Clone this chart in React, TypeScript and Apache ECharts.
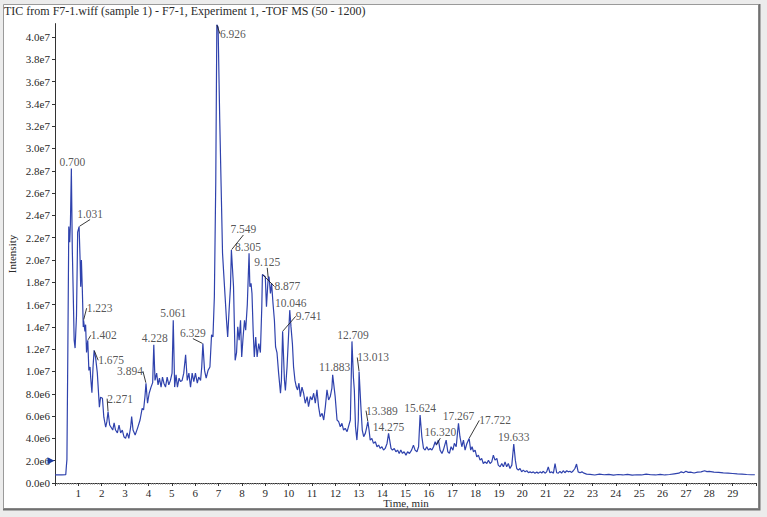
import { useEffect, useRef } from "react";
import * as echarts from "echarts";

// Total ion chromatogram: retention time (min) and intensity (×1e6 counts)
const timeMin = [
  0, 0.3, 0.46, 0.49, 0.51, 0.55, 0.59, 0.63, 0.66, 0.7, 0.74, 0.78, 0.82, 0.86, 0.92, 0.97, 1.031,
  1.07, 1.1, 1.13, 1.17, 1.21, 1.223, 1.28, 1.31, 1.35, 1.402, 1.45, 1.5, 1.53, 1.58, 1.63, 1.675,
  1.74, 1.81, 1.9, 1.95, 2.03, 2.09, 2.17, 2.22, 2.271, 2.34, 2.4, 2.47, 2.53, 2.59, 2.67, 2.74,
  2.81, 2.88, 2.95, 3.02, 3.09, 3.16, 3.24, 3.28, 3.34, 3.43, 3.53, 3.64, 3.73, 3.79, 3.85, 3.894,
  3.96, 4.03, 4.11, 4.18, 4.228, 4.28, 4.35, 4.41, 4.47, 4.54, 4.6, 4.66, 4.73, 4.8, 4.87, 4.94,
  5.01, 5.061, 5.12, 5.18, 5.24, 5.31, 5.37, 5.44, 5.51, 5.59, 5.66, 5.73, 5.8, 5.87, 5.94, 6.01,
  6.09, 6.15, 6.23, 6.28, 6.329, 6.4, 6.47, 6.55, 6.63, 6.7, 6.76, 6.82, 6.88, 6.926, 6.98, 7.05,
  7.11, 7.17, 7.22, 7.28, 7.34, 7.39, 7.45, 7.51, 7.549, 7.64, 7.71, 7.77, 7.82, 7.88, 7.94, 7.99,
  8.05, 8.11, 8.16, 8.23, 8.305, 8.34, 8.39, 8.43, 8.48, 8.53, 8.59, 8.65, 8.72, 8.79, 8.85, 8.877,
  9.0, 9.05, 9.1, 9.125, 9.16, 9.22, 9.27, 9.33, 9.39, 9.44, 9.5, 9.57, 9.65, 9.69, 9.741, 9.82,
  9.86, 9.93, 9.99, 10.046, 10.1, 10.16, 10.21, 10.27, 10.33, 10.38, 10.44, 10.5, 10.57, 10.64,
  10.71, 10.79, 10.85, 10.93, 11.0, 11.07, 11.14, 11.21, 11.28, 11.35, 11.43, 11.5, 11.57, 11.64,
  11.71, 11.78, 11.85, 11.883, 11.99, 12.07, 12.14, 12.21, 12.28, 12.35, 12.42, 12.5, 12.56, 12.64,
  12.709, 12.77, 12.81, 12.86, 12.92, 12.98, 13.013, 13.09, 13.15, 13.21, 13.28, 13.33, 13.389,
  13.44, 13.49, 13.56, 13.63, 13.71, 13.78, 13.85, 13.92, 13.99, 14.06, 14.13, 14.21, 14.275, 14.38,
  14.44, 14.52, 14.59, 14.66, 14.73, 14.8, 14.87, 14.94, 15.02, 15.09, 15.17, 15.26, 15.34, 15.41,
  15.49, 15.56, 15.624, 15.7, 15.77, 15.84, 15.91, 15.98, 16.06, 16.13, 16.2, 16.27, 16.32, 16.41,
  16.48, 16.56, 16.62, 16.74, 16.81, 16.88, 16.95, 17.03, 17.09, 17.17, 17.23, 17.267, 17.33, 17.41,
  17.48, 17.55, 17.62, 17.722, 17.79, 17.85, 17.91, 17.98, 18.05, 18.12, 18.19, 18.26, 18.33, 18.41,
  18.48, 18.55, 18.62, 18.69, 18.76, 18.83, 18.91, 18.97, 19.05, 19.12, 19.19, 19.26, 19.33, 19.4,
  19.47, 19.55, 19.633, 19.7, 19.76, 19.83, 19.9, 19.97, 20.04, 20.12, 20.19, 20.26, 20.33, 20.4,
  20.47, 20.54, 20.62, 20.68, 20.76, 20.83, 20.9, 20.97, 21.04, 21.11, 21.18, 21.26, 21.33, 21.4,
  21.47, 21.54, 21.61, 21.68, 21.75, 21.82, 21.9, 21.97, 22.04, 22.11, 22.18, 22.25, 22.32, 22.39,
  22.47, 22.55, 22.64, 22.75, 22.9, 23.1, 23.3, 23.5, 23.7, 23.9, 24.1, 24.3, 24.5, 24.7, 24.9,
  25.1, 25.3, 25.5, 25.7, 25.9, 26.1, 26.3, 26.5, 26.7, 26.8, 26.9, 27.0, 27.1, 27.2, 27.35, 27.5,
  27.65, 27.8, 27.9, 28.0, 28.2, 28.4, 28.6, 28.8, 29.0, 29.2, 29.4, 29.6, 29.8, 29.95,
];

const intensityE6 = [
  0.72, 0.72, 0.74, 1.6, 2.1, 12.0, 23.0, 21.6, 23.3, 28.2, 21.0, 17.0, 12.8, 12.1, 15.0, 22.5, 23.0,
  20.3, 17.6, 20.0, 17.3, 14.0, 14.6, 13.6, 14.2, 11.7, 12.8, 10.1, 10.4, 9.4, 8.1, 10.5, 11.9,
  11.2, 9.9, 6.8, 7.7, 7.6, 5.9, 5.0, 5.5, 6.4, 5.2, 5.0, 4.75, 5.4, 4.75, 4.5, 5.2,
  4.5, 4.75, 4.15, 4.0, 4.5, 4.0, 5.05, 5.95, 4.75, 4.3, 4.9, 5.65, 6.7, 6.55, 7.75, 8.95,
  7.15, 8.05, 8.6, 9.0, 12.4, 9.2, 9.85, 8.8, 9.4, 8.6, 9.5, 8.95, 8.6, 9.5, 8.8, 9.2,
  9.85, 14.6, 8.6, 9.7, 8.6, 9.4, 9.1, 9.2, 9.85, 11.5, 9.2, 9.85, 8.6, 9.85, 9.1, 9.85,
  8.95, 9.5, 9.2, 10.4, 12.5, 10.1, 9.4, 10.1, 10.4, 13.3, 13.1, 16.7, 27.0, 41.1, 40.9, 32.6,
  26.6, 20.6, 18.8, 16.7, 14.6, 13.1, 15.5, 17.6, 20.9, 17.6, 11.0, 11.7, 14.0, 12.8, 14.6, 11.3,
  13.1, 14.6, 13.7, 16.0, 20.6, 17.6, 17.9, 17.0, 13.7, 11.3, 13.1, 11.3, 12.5, 11.7, 15.8, 18.7,
  18.5, 15.8, 17.6, 18.4, 18.5, 17.0, 17.9, 16.1, 14.6, 12.2, 11.7, 9.85, 8.05, 9.2, 13.6, 9.2,
  8.3, 10.4, 13.0, 15.5, 14.0, 12.5, 10.4, 9.2, 8.6, 8.35, 8.95, 7.75, 8.6, 8.05,
  7.15, 7.75, 6.85, 7.75, 7.45, 8.05, 7.15, 8.35, 6.85, 5.95, 6.25, 5.65, 6.85, 8.35,
  7.45, 7.75, 8.5, 9.7, 7.75, 5.65, 5.5, 5.05, 5.35, 4.75, 4.9, 4.6, 5.05, 5.65,
  12.7, 9.5, 8.35, 5.05, 3.85, 5.65, 10.0, 6.85, 4.75, 4.15, 4.45, 4.9, 5.5,
  4.75, 3.85, 4.0, 3.55, 3.7, 3.25, 3.4, 3.1, 3.25, 2.95, 3.1, 3.55, 4.45, 3.1,
  2.95, 3.1, 2.8, 2.95, 2.65, 2.95, 2.65, 2.8, 2.5, 2.8, 2.65, 2.95, 3.4, 2.95,
  2.8, 3.25, 6.1, 4.15, 3.1, 2.95, 3.25, 2.95, 3.1, 2.95, 3.25, 3.7, 3.4, 3.85,
  2.95, 2.65, 2.95, 3.85, 2.8, 2.65, 3.25, 2.95, 3.55, 3.25, 4.6, 5.35, 4.15, 3.25,
  3.85, 2.95, 3.5, 4.0, 2.95, 3.25, 2.8, 2.95, 2.35, 2.5, 2.05, 2.2, 1.75, 1.9,
  1.75, 2.05, 1.75, 1.9, 2.5, 2.05, 2.2, 1.6, 1.45, 1.75, 1.45, 1.9, 1.45, 1.75,
  1.3, 1.6, 3.5, 2.05, 1.3, 1.15, 1.3, 1.0, 1.15, 1.0, 1.1, 0.92, 1.0, 0.92,
  1.0, 0.87, 0.98, 0.87, 1.0, 0.9, 1.05, 0.88, 1.0, 1.45, 0.92, 1.0, 0.88, 1.75,
  0.92, 0.88, 1.05, 0.88, 1.1, 0.92, 1.1, 1.0, 1.05, 0.95, 1.1, 1.3, 1.7, 1.0,
  0.92, 1.0, 0.88, 0.8, 0.78, 0.72, 0.8, 0.74, 0.78, 0.7, 0.76, 0.72, 0.78, 0.7, 0.74,
  0.72, 0.8, 0.74, 0.72, 0.78, 0.72, 0.76, 0.82, 0.88, 1.0, 0.92, 1.05, 0.95, 0.98, 0.9, 0.98,
  1.0, 1.1, 1.02, 1.05, 0.98, 0.95, 0.9, 0.88, 0.85, 0.82, 0.8, 0.76, 0.74, 0.74,
];

// Annotated peaks (retention times, min)
const peakTimes = [
  0.7, 1.031, 1.223, 1.402, 1.675, 2.271, 3.894, 4.228, 5.061, 6.329, 6.926, 7.549, 8.305, 8.877,
  9.125, 9.741, 10.046, 11.883, 12.709, 13.013, 13.389, 14.275, 15.624, 16.32, 17.267, 17.722, 19.633,
];
// Label placement (dx, dy from the apex, px) and whether a leader line is drawn
const peakLabelShift = [
  [1, -7], [11, -13], [16, -12], [16, -5], [17, 10], [12, -13], [-16, -12], [1, -7], [0, -7],
  [-10, -11], [16, 9], [12, -21], [-1, -6], [25, 12], [-1, -16], [26, -15], [1, -7], [2, -8],
  [1, -6.5], [14, -14], [14, -11], [0, -6], [0, -7], [4, -13], [0, -7], [26, -18], [0, -6.5],
];
const peakLeader = [
  false, true, true, true, true, true, true, false, false, true, true, true, false, true,
  true, true, false, false, false, true, true, false, false, true, false, true, false,
];

const yTickValues = [
  0, 2e6, 4e6, 6e6, 8e6, 1e7, 1.2e7, 1.4e7, 1.6e7, 1.8e7, 2e7, 2.2e7, 2.4e7, 2.6e7, 2.8e7,
  3e7, 3.2e7, 3.4e7, 3.6e7, 3.8e7, 4e7,
];

const TITLE = "TIC from F7-1.wiff (sample 1) - F7-1, Experiment 1, -TOF MS (50 - 1200)";
const X_NAME = "Time, min";
const Y_NAME = "Intensity";
const SERIF = '"Liberation Serif", "DejaVu Serif", serif';
const TEXT = "#2a2a2a";

export default function App() {
  const ref = useRef<HTMLDivElement>(null);

  useEffect(() => {
    const chart = echarts.init(ref.current!, null, { renderer: "svg" });
    const tic = timeMin.map((t, i) => [t, intensityE6[i] * 1e6]);
    const peaks = peakTimes.map((t, i) => {
      const k = timeMin.indexOf(t);
      return { value: [t, intensityE6[k] * 1e6], labelLine: { show: peakLeader[i] } };
    });

    chart.setOption({
      animation: false,
      backgroundColor: "#ececec",
      title: {
        text: TITLE,
        left: 4,
        top: 5,
        padding: 0,
        textStyle: { fontFamily: SERIF, fontSize: 12, fontWeight: "normal", color: TEXT },
      },
      graphic: [
        {
          type: "rect",
          z: -10,
          silent: true,
          shape: { x: 3.5, y: 4.5, width: 755, height: 504 },
          style: { fill: "#fff", stroke: "#9a9a9a", lineWidth: 1 },
        },
        {
          type: "polyline",
          z: -9,
          silent: true,
          shape: { points: [[759.5, 4], [759.5, 509.5], [3, 509.5]] },
          style: { stroke: "#707070", lineWidth: 2, fill: null },
        },
        // axis titles
        {
          type: "text",
          silent: true,
          x: 406,
          y: 503,
          style: {
            text: X_NAME,
            fontFamily: SERIF,
            fontSize: 11,
            fill: TEXT,
            align: "center",
            verticalAlign: "middle",
          },
        },
        {
          type: "text",
          silent: true,
          x: 12,
          y: 254,
          rotation: Math.PI / 2,
          style: {
            text: Y_NAME,
            fontFamily: SERIF,
            fontSize: 11,
            fill: TEXT,
            align: "center",
            verticalAlign: "middle",
          },
        },
      ],
      grid: {
        left: 55,
        right: 11,
        top: 23.6,
        bottom: 34,
        containLabel: false,
        outerBoundsMode: "none",
      },
      xAxis: {
        type: "value",
        min: 0,
        max: 30,
        interval: 1,
        axisLine: { lineStyle: { color: "#333", width: 1 } },
        axisTick: { length: 3, lineStyle: { color: "#333" } },
        minorTick: { show: true, splitNumber: 10, length: 1.5, lineStyle: { color: "#777" } },
        splitLine: { show: false },
        axisLabel: {
          showMinLabel: false,
          showMaxLabel: false,
          margin: 4,
          fontFamily: SERIF,
          fontSize: 11,
          color: TEXT,
          formatter: (v: number) => (v <= 0 || v >= 30 ? "" : String(v)),
        },
      },
      yAxis: {
        type: "value",
        min: 0,
        max: 4.12e7,
        interval: 2e6,
        axisLine: { show: true, lineStyle: { color: "#333", width: 1 } },
        axisTick: { show: true, length: 3, customValues: yTickValues, lineStyle: { color: "#333" } },
        splitLine: { show: false },
        axisLabel: {
          customValues: yTickValues,
          margin: 5,
          fontFamily: SERIF,
          fontSize: 11,
          color: TEXT,
          formatter: (v: number) => (v > 4.01e7 ? "" : v.toExponential(1).replace("+", "")),
        },
      },
      series: [
        {
          type: "line",
          data: tic,
          showSymbol: false,
          symbol: "none",
          smooth: false,
          lineStyle: { color: "#2f42ad", width: 1.2 },
          markPoint: {
            silent: true,
            label: { show: false },
            data: [
              {
                coord: [0, 2e6],
                symbol: "triangle",
                symbolRotate: -90,
                symbolSize: [7, 7],
                symbolOffset: [-4, 0],
                itemStyle: { color: "#1c3a9e" },
              },
            ],
          },
        },
        {
          type: "scatter",
          data: peaks,
          symbol: "circle",
          symbolSize: 1,
          itemStyle: { color: "rgba(0,0,0,0)" },
          silent: true,
          z: 5,
          label: {
            show: true,
            position: "inside",
            fontFamily: SERIF,
            fontSize: 11.5,
            color: TEXT,
            formatter: (p: any) => p.value[0].toFixed(3),
          },
          labelLine: { show: false, lineStyle: { color: "#222", width: 0.9 } },
          labelLayout: (p: any) => {
            const s = peakLabelShift[p.dataIndex];
            return { dx: s[0], dy: s[1] };
          },
        },
      ],
    });

    return () => chart.dispose();
  }, []);

  return (
    <div
      ref={ref}
      style={{ position: "fixed", left: 0, top: 0, width: 767, height: 517 }}
    />
  );
}
